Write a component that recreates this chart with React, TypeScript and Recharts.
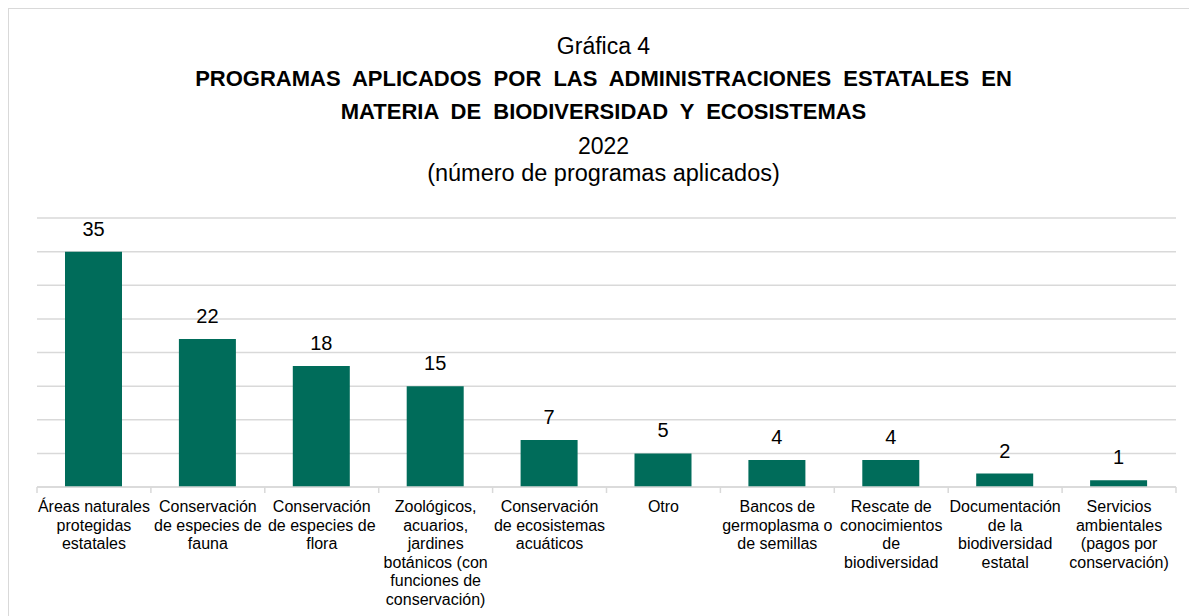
import React from "react";
import { BarChart, Bar, XAxis, YAxis, CartesianGrid, LabelList } from "recharts";

const categories = [
  "Áreas naturales\nprotegidas\nestatales",
  "Conservación\nde especies de\nfauna",
  "Conservación\nde especies de\nflora",
  "Zoológicos,\nacuarios,\njardines\nbotánicos (con\nfunciones de\nconservación)",
  "Conservación\nde ecosistemas\nacuáticos",
  "Otro",
  "Bancos de\ngermoplasma o\nde semillas",
  "Rescate de\nconocimientos\nde\nbiodiversidad",
  "Documentación\nde la\nbiodiversidad\nestatal",
  "Servicios\nambientales\n(pagos por\nconservación)",
];
const values = [35, 22, 18, 15, 7, 5, 4, 4, 2, 1];
const yTicks = [0, 5, 10, 15, 20, 25, 30, 35, 40];

const data = categories.map((name, i) => ({ name, value: values[i] }));

const CHART_W = 1189;
const CHART_H = 600;
const MARGIN = { top: 210, right: 21, left: 29, bottom: 0 };
const PLOT_W = CHART_W - MARGIN.left - MARGIN.right;
const BAND = PLOT_W / categories.length;
const FONT = '"Liberation Sans", Arial, sans-serif';

const CategoryTick = (props: any) => {
  const { x, y, payload, index } = props;
  const lines = String(payload.value).split("\n");
  const isLast = index === categories.length - 1;
  return (
    <g>
      <line x1={x - BAND / 2} x2={x - BAND / 2} y1={y} y2={y + 6} stroke="#d9d9d9" strokeWidth={1.5} />
      {isLast && (
        <line x1={x + BAND / 2} x2={x + BAND / 2} y1={y} y2={y + 6} stroke="#d9d9d9" strokeWidth={1.5} />
      )}
      <text x={x} y={y} textAnchor="middle" fontSize={16} fill="#000" fontFamily={FONT}>
        {lines.map((l, i) => (
          <tspan key={i} x={x} dy={i === 0 ? 25 : 18.5}>
            {l}
          </tspan>
        ))}
      </text>
    </g>
  );
};

const centered = (top: number, h: number, size: number, bold = false): React.CSSProperties => ({
  position: "absolute",
  left: 0,
  width: CHART_W,
  top: top - h / 2,
  height: h,
  lineHeight: `${h}px`,
  textAlign: "center",
  fontSize: size,
  fontWeight: bold ? 700 : 400,
  fontFamily: FONT,
  color: "#000",
  whiteSpace: "nowrap",
});

export default function App() {
  return (
    <div
      style={{
        position: "relative",
        width: CHART_W,
        height: 620,
        borderLeft: "1px solid #d9d9d9",
        borderTop: "1px solid #d9d9d9",
        boxSizing: "border-box",
        background: "#fff",
      }}
    >
      <div style={centered(37, 28, 23)}>Gráfica 4</div>
      <div style={{ ...centered(70, 28, 22, true), wordSpacing: 6 }}>
        PROGRAMAS APLICADOS POR LAS ADMINISTRACIONES ESTATALES EN
      </div>
      <div style={{ ...centered(103, 28, 22, true), wordSpacing: 6 }}>
        MATERIA DE BIODIVERSIDAD Y ECOSISTEMAS
      </div>
      <div style={centered(137, 28, 23)}>2022</div>
      <div style={centered(164, 28, 23.5)}>(número de programas aplicados)</div>
      <div style={{ position: "absolute", left: -1, top: -1 }}>
        <BarChart width={CHART_W} height={CHART_H} data={data} margin={MARGIN}>
          <CartesianGrid vertical={false} stroke="#d9d9d9" strokeWidth={1.5} />
          <YAxis hide domain={[0, 40]} ticks={yTicks} type="number" />
          <XAxis
            dataKey="name"
            interval={0}
            height={121}
            tickSize={0}
            tickMargin={0}
            axisLine={{ stroke: "#d9d9d9", strokeWidth: 1.5 }}
            tickLine={false}
            tick={<CategoryTick />}
          />
          <Bar dataKey="value" fill="#006c5a" barSize={57} isAnimationActive={false}>
            <LabelList dataKey="value" position="top" offset={16} fontSize={20} fill="#000" fontFamily={FONT} />
          </Bar>
        </BarChart>
      </div>
    </div>
  );
}
